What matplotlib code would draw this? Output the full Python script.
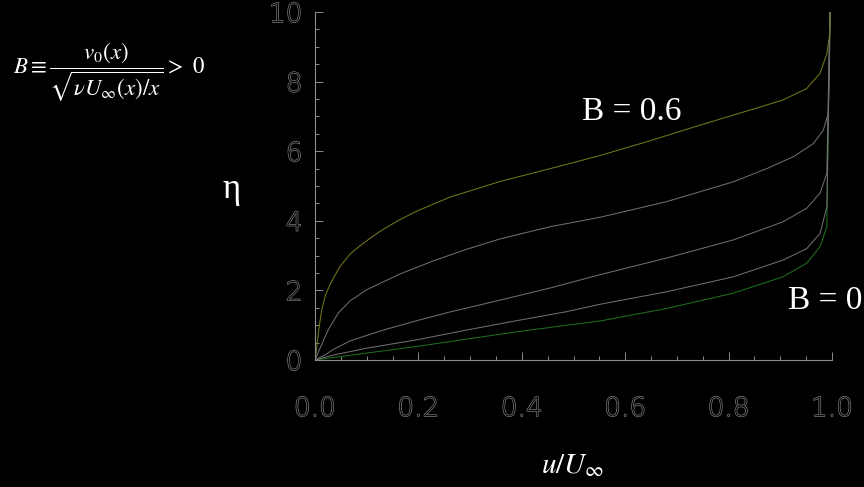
"""
Profil kecepatan lapisan batas dengan hisapan (B = 0 ... 0.6)
"""

import matplotlib
matplotlib.use('Agg')
import matplotlib.pyplot as plt
import matplotlib.patheffects as pe
from matplotlib.ticker import MultipleLocator

# data: (u/U_inf, eta) untuk tiap kurva
u_b06 = [0, 0.004, 0.008, 0.013, 0.02, 0.03, 0.048, 0.068, 0.087, 0.105, 0.126, 0.16,
         0.197, 0.261, 0.358, 0.455, 0.55, 0.648, 0.745, 0.841, 0.905, 0.951, 0.977,
         0.99, 0.995, 0.997]
eta_b06 = [0, 0.45, 0.95, 1.44, 1.85, 2.2, 2.68, 3.05, 3.28, 3.48, 3.7, 4.0,
           4.28, 4.68, 5.13, 5.5, 5.87, 6.3, 6.75, 7.18, 7.47, 7.8, 8.24,
           8.8, 9.3, 10]

u_c2 = [0, 0.01, 0.025, 0.045, 0.068, 0.1, 0.164, 0.229, 0.293, 0.358, 0.455, 0.551,
        0.68, 0.809, 0.874, 0.925, 0.964, 0.983, 0.993, 0.997]
eta_c2 = [0, 0.35, 0.85, 1.35, 1.7, 2.02, 2.47, 2.85, 3.18, 3.48, 3.83, 4.1,
          4.55, 5.12, 5.5, 5.84, 6.22, 6.6, 7.1, 10]

u_c3 = [0, 0.02, 0.035, 0.068, 0.132, 0.197, 0.261, 0.358, 0.455, 0.551,
        0.68, 0.809, 0.905, 0.951, 0.977, 0.99, 0.996]
eta_c3 = [0, 0.15, 0.3, 0.55, 0.86, 1.13, 1.38, 1.72, 2.07, 2.45,
          2.93, 3.45, 3.97, 4.36, 4.8, 5.37, 10]

u_c4 = [0, 0.035, 0.1, 0.197, 0.293, 0.39, 0.487, 0.551, 0.68, 0.809,
        0.905, 0.951, 0.977, 0.99, 0.996]
eta_c4 = [0, 0.14, 0.34, 0.58, 0.86, 1.13, 1.39, 1.6, 1.96, 2.39,
          2.87, 3.2, 3.64, 4.4, 10]

u_b0 = [0, 0.05, 0.1, 0.197, 0.293, 0.39, 0.487, 0.551, 0.68, 0.809,
        0.905, 0.951, 0.977, 0.99, 0.996]
eta_b0 = [0, 0.1, 0.2, 0.39, 0.6, 0.81, 1.0, 1.12, 1.48, 1.92,
          2.39, 2.78, 3.26, 3.83, 10]

# digambar dari bawah ke atas supaya garis vertikal di u=1 tampak abu-abu
curves = [(u_b0, eta_b0, '#1f6e1f'),
          (u_c4, eta_c4, '#6e6e6e'),
          (u_c3, eta_c3, '#6e6e6e'),
          (u_c2, eta_c2, '#6e6e6e'),
          (u_b06, eta_b06, '#75751a')]

plt.rcParams['mathtext.fontset'] = 'stix'

fig = plt.figure(figsize=(8.64, 4.87), dpi=100, facecolor='black')
ax = fig.add_axes([315/864, 127/487, 517/864, 348/487], facecolor='black')

for u, eta, col in curves:
    ax.plot(u, eta, color=col, lw=0.75)

ax.set_xlim(0, 1.0)
ax.set_ylim(0, 10)

# sumbu gaya lama: hanya kiri & bawah, tick ke dalam
for s in ['top', 'right']:
    ax.spines[s].set_visible(False)
for s in ['left', 'bottom']:
    ax.spines[s].set_color('#8c8c8c')
    ax.spines[s].set_linewidth(0.8)

ax.xaxis.set_major_locator(MultipleLocator(0.2))
ax.xaxis.set_minor_locator(MultipleLocator(0.05))
ax.yaxis.set_major_locator(MultipleLocator(2))
ax.yaxis.set_minor_locator(MultipleLocator(0.5))
ax.tick_params(which='both', direction='in', color='#8c8c8c', width=0.7)
ax.tick_params(which='major', length=6)
ax.tick_params(which='minor', length=3)
ax.tick_params(axis='x', pad=26)
ax.tick_params(axis='y', pad=9)
ax.set_xticklabels([f'{v:.1f}' for v in ax.get_xticks()])

# angka sumbu berupa huruf bergaris tepi (hollow)
outline = [pe.Stroke(linewidth=0.9, foreground='#8a8a8a'), pe.Normal()]
for lbl in ax.get_xticklabels() + ax.get_yticklabels():
    lbl.set_color('black')
    lbl.set_fontsize(19)
    lbl.set_fontweight(200)
    lbl.set_path_effects(outline)

# teks
serif = 'Liberation Serif'
fig.text(632/864, 1 - 112/487, 'B = 0.6', color='white', fontsize=24,
         family=serif, ha='center', va='center')
fig.text(825/864, 1 - 301/487, 'B = 0', color='white', fontsize=24,
         family=serif, ha='center', va='center')
fig.text(232/864, 1 - 190/487, 'η', color='white', fontsize=25,
         family=serif, ha='center', va='center')
fig.text(573/864, 1 - 465/487, r'$u/U_\infty$', color='white', fontsize=21,
         ha='center', va='center')
fig.text(13/864, 1 - 72/487,
         r'$B \equiv \dfrac{v_0(x)}{\sqrt{\nu U_\infty(x)/x}} >\ 0$',
         color='white', fontsize=16.5, ha='left', va='center')

plt.savefig('out.png', dpi=100, facecolor='black')
print("out.png disimpan")
